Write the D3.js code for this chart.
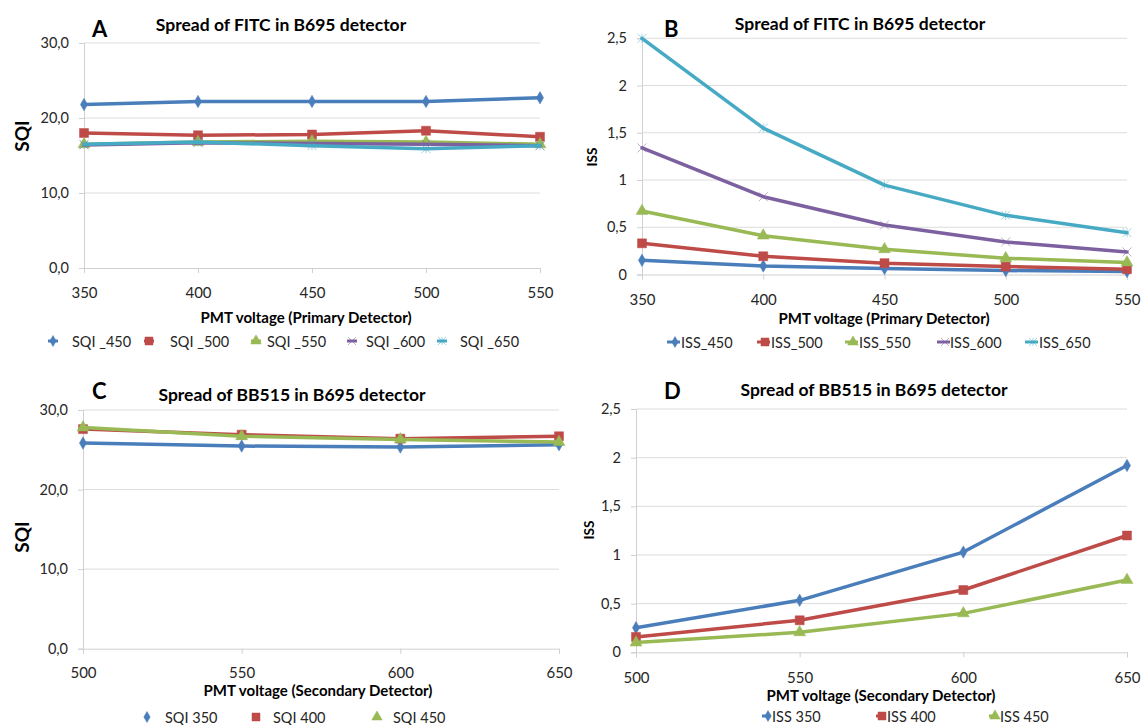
<!DOCTYPE html>
<html>
<head>
<meta charset="utf-8">
<script src="https://cdn.jsdelivr.net/npm/d3@7"></script>
<style>
  html, body { margin: 0; padding: 0; background: #fff; }
  svg { display: block; font-family: Lato, "Open Sans", sans-serif; }
</style>
</head>
<body>
<svg id="chart" width="1141" height="725"></svg>
<script>
// ---------------- DATA ----------------
// Panel A – Spread of FITC in B695 detector (SQI)
const primaryVoltages = [350, 400, 450, 500, 550];
const sqiA_450 = [21.8, 22.2, 22.2, 22.2, 22.7];
const sqiA_500 = [18.0, 17.7, 17.8, 18.3, 17.5];
const sqiA_550 = [16.5, 16.8, 16.9, 16.8, 16.5];
const sqiA_600 = [16.4, 16.7, 16.6, 16.5, 16.3];
const sqiA_650 = [16.5, 16.8, 16.3, 15.9, 16.3];
const sqiANames = ["SQI _450", "SQI _500", "SQI _550", "SQI _600", "SQI _650"];

// Panel B – Spread of FITC in B695 detector (ISS)
const issB_450 = [0.15, 0.09, 0.063, 0.042, 0.032];
const issB_500 = [0.33, 0.193, 0.12, 0.084, 0.056];
const issB_550 = [0.672, 0.411, 0.267, 0.172, 0.127];
const issB_600 = [1.34, 0.823, 0.524, 0.345, 0.239];
const issB_650 = [2.5, 1.55, 0.946, 0.626, 0.443];
const issBNames = ["ISS_450", "ISS_500", "ISS_550", "ISS_600", "ISS_650"];

// Panel C – Spread of BB515 in B695 detector (SQI)
const secondaryVoltages = [500, 550, 600, 650];
const sqiC_350 = [25.85, 25.47, 25.35, 25.64];
const sqiC_400 = [27.6, 26.9, 26.4, 26.7];
const sqiC_450 = [27.8, 26.7, 26.3, 25.97];
const sqiCNames = ["SQI 350", "SQI 400", "SQI 450"];

// Panel D – Spread of BB515 in B695 detector (ISS)
const issD_350 = [0.253, 0.534, 1.03, 1.92];
const issD_400 = [0.158, 0.329, 0.64, 1.2];
const issD_450 = [0.1, 0.205, 0.40, 0.743];
const issDNames = ["ISS 350", "ISS 400", "ISS 450"];

// Tick values
const sqiTicks = [0, 10, 20, 30];
const issTicks = [0, 0.5, 1, 1.5, 2, 2.5];

const panelTitles = ["Spread of FITC in B695 detector", "Spread of FITC in B695 detector",
                     "Spread of BB515 in B695 detector", "Spread of BB515 in B695 detector"];
const panelLetters = ["A", "B", "C", "D"];
const xTitles = ["PMT voltage (Primary Detector)", "PMT voltage (Primary Detector)",
                 "PMT voltage (Secondary Detector)", "PMT voltage (Secondary Detector)"];
const yTitles = ["SQI", "ISS", "SQI", "ISS"];

// ---------------- STYLE ----------------
const colors = ["#4a7ebb", "#be4b48", "#98b954", "#7d60a0", "#46aac5"];
const markers = ["diamond", "square", "triangle", "x", "asterisk"];

const svg = d3.select("#chart");
const fmtSQI = d => d3.format(".1f")(d).replace(".", ",");
const fmtISS = d => (Number.isInteger(d) ? String(d) : String(d).replace(".", ","));

function markerPath(type, s) {
  switch (type) {
    case "diamond": return d3.symbol(d3.symbolDiamond, s * s * 0.55)();
    case "square": return d3.symbol(d3.symbolSquare, s * s)();
    case "triangle": return d3.symbol(d3.symbolTriangle, s * s * 0.75)();
    case "x": { const h = s / 2; return `M${-h},${-h}L${h},${h}M${-h},${h}L${h},${-h}`; }
    case "asterisk": { const h = s / 2; return `M${-h},${-h}L${h},${h}M${-h},${h}L${h},${-h}M0,${-h}L0,${h}`; }
  }
}
function drawMarker(g, type, color, x, y, s) {
  const stroke = (type === "x" || type === "asterisk");
  g.append("path")
    .attr("d", markerPath(type, s))
    .attr("transform", `translate(${x},${y})`)
    .attr("fill", stroke ? "none" : color)
    .attr("stroke", color)
    .attr("stroke-width", stroke ? 1 : 0.5)
    .attr("opacity", stroke ? 0.5 : 1);
}

function drawPanel(p) {
  const g = svg.append("g");
  const x = d3.scalePoint().domain(p.cats).range(p.xr).padding(0);
  const y = d3.scaleLinear().domain(p.yDomain).range(p.yr);

  // gridlines
  g.append("g").selectAll("line").data(p.yTicks.filter(t => t > 0)).join("line")
    .attr("x1", p.xr[0]).attr("x2", p.xr[1])
    .attr("y1", d => y(d)).attr("y2", d => y(d))
    .attr("stroke", "#dcdcdc").attr("stroke-width", 1);

  // y axis
  const ya = g.append("g").attr("transform", `translate(${p.xr[0]},0)`)
    .call(d3.axisLeft(y).tickValues(p.yTicks).tickFormat(p.fmt).tickSize(5).tickPadding(10));
  ya.select(".domain").attr("stroke", "#d0d0d0");
  ya.selectAll(".tick line").attr("stroke", "#d0d0d0");
  ya.selectAll("text").attr("font-size", 14.5).attr("fill", "#262626")
    .attr("font-family", "Lato, sans-serif");

  // x axis
  const xa = g.append("g").attr("transform", `translate(0,${p.yr[0]})`)
    .call(d3.axisBottom(x).tickSize(5).tickPadding(p.xPad));
  xa.select(".domain").attr("stroke", "#d0d0d0");
  xa.selectAll(".tick line").attr("stroke", "#d0d0d0");
  xa.selectAll("text").attr("font-size", 15).attr("fill", "#262626")
    .attr("font-family", "Lato, sans-serif");

  // lines
  const line = d3.line().x((d, i) => x(p.cats[i])).y(d => y(d));
  p.series.forEach((vals, k) => {
    g.append("path").datum(vals)
      .attr("d", line).attr("fill", "none")
      .attr("stroke", colors[k]).attr("stroke-width", 3.5)
      .attr("stroke-linejoin", "round").attr("stroke-linecap", "round");
    vals.forEach((v, i) => drawMarker(g, markers[k], colors[k], x(p.cats[i]), y(v), p.markerSize));
  });

  // titles
  g.append("text").attr("x", p.letterX).attr("y", p.letterY)
    .attr("font-size", 22).attr("font-weight", 700).attr("fill", "#000")
    .attr("dominant-baseline", "central").text(p.letter);
  g.append("text").attr("x", p.titleX).attr("y", p.titleY)
    .attr("text-anchor", "middle").attr("dominant-baseline", "central")
    .attr("font-size", 17.5).attr("font-weight", 700).attr("fill", "#000").text(p.title);
  g.append("text").attr("x", p.xTitleX).attr("y", p.xTitleY)
    .attr("text-anchor", "middle").attr("dominant-baseline", "central")
    .attr("font-size", 15).attr("font-weight", 700).attr("fill", "#000").text(p.xTitle);
  g.append("text")
    .attr("transform", `translate(${p.yTitleX},${p.yTitleY}) rotate(-90)`)
    .attr("text-anchor", "middle").attr("dominant-baseline", "central")
    .attr("font-size", p.yTitleSize).attr("font-weight", 700).attr("fill", "#000").text(p.yTitle);

  // legend
  p.names.forEach((name, k) => {
    const mx = p.legend.mx[k], tx = p.legend.tx[k], ly = p.legend.y;
    if (p.legend.line) {
      g.append("line").attr("x1", mx - p.legend.line[0]).attr("x2", mx + p.legend.line[1])
        .attr("y1", ly).attr("y2", ly).attr("stroke", colors[k]).attr("stroke-width", 3);
    }
    drawMarker(g, markers[k], colors[k], mx, ly, p.legend.ms);
    g.append("text").attr("x", tx).attr("y", ly).attr("dominant-baseline", "central")
      .attr("font-size", 14.5).attr("fill", "#262626").text(name);
  });
}

drawPanel({
  cats: primaryVoltages, series: [sqiA_450, sqiA_500, sqiA_550, sqiA_600, sqiA_650], names: sqiANames,
  xr: [84, 540], yr: [268, 43], yDomain: [0, 30], yTicks: sqiTicks, fmt: fmtSQI, xPad: 14, markerSize: 9,
  letter: panelLetters[0], letterX: 92, letterY: 28,
  title: panelTitles[0], titleX: 281, titleY: 24,
  xTitle: xTitles[0], xTitleX: 306, xTitleY: 317,
  yTitle: yTitles[0], yTitleX: 21, yTitleY: 136, yTitleSize: 19,
  legend: { y: 341, mx: [53, 149, 256, 352, 442], tx: [72, 170, 267, 366, 460], ms: 8, line: [5, 5] }
});

drawPanel({
  cats: primaryVoltages, series: [issB_450, issB_500, issB_550, issB_600, issB_650], names: issBNames,
  xr: [642, 1127], yr: [274.5, 38.3], yDomain: [0, 2.5], yTicks: issTicks, fmt: fmtISS, xPad: 15, markerSize: 9,
  letter: panelLetters[1], letterX: 664, letterY: 28,
  title: panelTitles[1], titleX: 860, titleY: 23,
  xTitle: xTitles[1], xTitleX: 884, xTitleY: 318,
  yTitle: yTitles[1], yTitleX: 592, yTitleY: 157, yTitleSize: 13.5,
  legend: { y: 342, mx: [675, 765, 853, 945, 1033], tx: [681, 771, 859, 950, 1039], ms: 8, line: [8, 5] }
});

drawPanel({
  cats: secondaryVoltages, series: [sqiC_350, sqiC_400, sqiC_450], names: sqiCNames,
  xr: [83, 559], yr: [648.7, 410], yDomain: [0, 30], yTicks: sqiTicks, fmt: fmtSQI, xPad: 14, markerSize: 9,
  letter: panelLetters[2], letterX: 92, letterY: 390,
  title: panelTitles[2], titleX: 292, titleY: 394,
  xTitle: xTitles[2], xTitleX: 318, xTitleY: 690,
  yTitle: yTitles[2], yTitleX: 21, yTitleY: 537, yTitleSize: 19,
  legend: { y: 717, mx: [147, 256, 377], tx: [165, 273, 393], ms: 8, line: null }
});

drawPanel({
  cats: secondaryVoltages, series: [issD_350, issD_400, issD_450], names: issDNames,
  xr: [636, 1127], yr: [652.3, 409], yDomain: [0, 2.5], yTicks: issTicks, fmt: fmtISS, xPad: 15, markerSize: 9,
  letter: panelLetters[3], letterX: 664, letterY: 390,
  title: panelTitles[3], titleX: 874, titleY: 389,
  xTitle: xTitles[3], xTitleX: 881, xTitleY: 695,
  yTitle: yTitles[3], yTitleX: 589, yTitleY: 530, yTitleSize: 13.5,
  legend: { y: 716, mx: [768, 882, 995], tx: [772, 887, 1000], ms: 8, line: [6, 3] }
});
</script>
</body>
</html>
